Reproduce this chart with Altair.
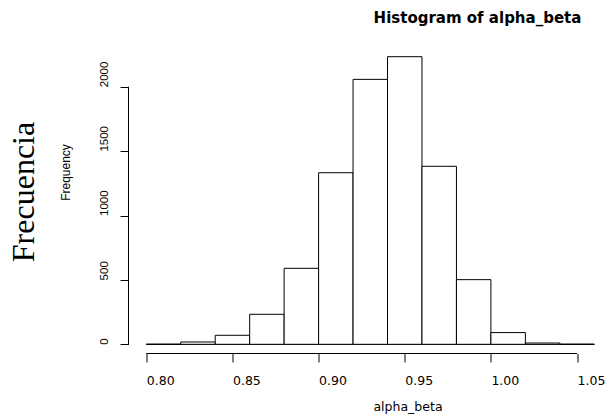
import altair as alt
import pandas as pd

# ---- data ----
bin_lo = [0.80, 0.82, 0.84, 0.86, 0.88, 0.90, 0.92, 0.94, 0.96, 0.98, 1.00, 1.02, 1.04]
bin_hi = [0.82, 0.84, 0.86, 0.88, 0.90, 0.92, 0.94, 0.96, 0.98, 1.00, 1.02, 1.04, 1.06]
counts = [0, 18, 70, 233, 590, 1332, 2057, 2233, 1382, 502, 91, 10, 0]
x_ticks = [0.80, 0.85, 0.90, 0.95, 1.00, 1.05]
y_ticks = [0, 500, 1000, 1500, 2000]
title_text = "Histogram of alpha_beta"
x_title = "alpha_beta"
y_title = "Frequency"
y_title_big = "Frecuencia"

# ---- layout ----
W = 477.5
H = 308.5
LEFT = 128.5
TOP = 45
x_domain = [0.78967, 1.0668]
y_domain = [-71.4, 2323.8]

df = pd.DataFrame({"lo": bin_lo, "hi": bin_hi, "n": counts})
xs = alt.Scale(domain=x_domain, nice=False, zero=False)
ys = alt.Scale(domain=y_domain, nice=False, zero=False)

x_axis = alt.Axis(
    values=x_ticks, format=".2f", domain=False, grid=False,
    tickSize=8.5, tickColor="black", tickWidth=1,
    labelFont="DejaVu Sans", labelFontSize=12.5, labelColor="black",
    labelAlign="left", labelBaseline="alphabetic", labelPadding=22,
    labelFlush=False, labelOverlap=False,
    title=x_title, titleFont="DejaVu Sans", titleFontSize=12.5, titleFontWeight="normal",
    titleColor="black", titleX=279, titleY=56.5, titleBaseline="alphabetic", titleAlign="center",
)
y_axis = alt.Axis(
    values=y_ticks, format="d", domain=False, grid=False,
    tickSize=8.5, tickColor="black", tickWidth=1,
    labelAngle=270, labelAlign="left", labelBaseline="alphabetic", labelPadding=12.3,
    labelFont="Liberation Sans", labelFontSize=11.5, labelColor="black", labelOverlap=False,
    title=y_title, titleAngle=270, titleX=-59.3, titleY=127, titleAlign="center",
    titleBaseline="alphabetic", titleFont="Liberation Sans", titleFontSize=12,
    titleFontWeight="normal", titleColor="black",
)

bars = alt.Chart(df).mark_rect(fill="white", stroke="black", strokeWidth=1).encode(
    x=alt.X("lo:Q", scale=xs, axis=x_axis),
    x2="hi:Q",
    y=alt.Y("n:Q", scale=ys, axis=y_axis),
    y2=alt.datum(0),
)

base_df = pd.DataFrame({"a": [bin_lo[0]], "b": [bin_hi[-1]]})
baseline = alt.Chart(base_df).mark_rule(color="black", strokeWidth=1).encode(
    x=alt.X("a:Q", scale=xs), x2="b:Q", y=alt.datum(0)
)

xline_df = pd.DataFrame({"a": [x_ticks[0]], "b": [x_ticks[-1]]})
x_line = alt.Chart(xline_df).mark_rule(color="black", strokeWidth=1).encode(
    x=alt.X("a:Q", scale=xs), x2="b:Q", y=alt.value(H)
)

yline_df = pd.DataFrame({"a": [y_ticks[0]], "b": [y_ticks[-1]]})
y_line = alt.Chart(yline_df).mark_rule(color="black", strokeWidth=1).encode(
    y=alt.Y("a:Q", scale=ys), y2="b:Q", x=alt.value(0)
)

big_label = alt.Chart(pd.DataFrame({"t": [y_title_big]})).mark_text(
    angle=270, align="center", baseline="alphabetic",
    font="Liberation Serif", fontSize=32, color="black",
).encode(x=alt.value(-95), y=alt.value(147), text="t:N")

title = alt.Chart(pd.DataFrame({"t": [title_text]})).mark_text(
    align="center", baseline="alphabetic",
    font="DejaVu Sans", fontWeight="bold", fontSize=15, color="black",
).encode(x=alt.value(349), y=alt.value(-22.5), text="t:N")

chart = alt.layer(baseline, bars, x_line, y_line, big_label, title).properties(
    width=W, height=H,
    padding={"left": LEFT, "top": TOP, "right": 0, "bottom": 416 - TOP - H},
    autosize=alt.AutoSizeParams(type="none"),
    background="white",
).configure_view(stroke="transparent")

chart.save("out.html", embed_options={"renderer": "svg", "actions": False})
